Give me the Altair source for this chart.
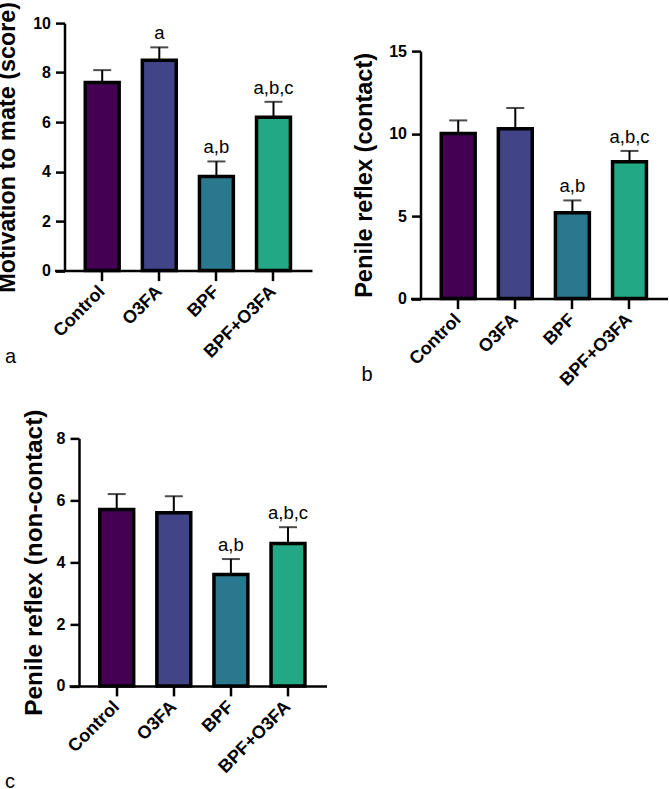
import altair as alt
import pandas as pd

# Treatment groups and bar fill colours (viridis steps)
groups = ["Control", "O3FA", "BPF", "BPF+O3FA"]
colors = ["#440154", "#414487", "#2A788E", "#22A884"]

# (a) Motivation to mate
motivation_mean = [7.6, 8.5, 3.8, 6.2]
motivation_sem = [0.5, 0.52, 0.61, 0.62]
motivation_sig = ["", "a", "a,b", "a,b,c"]

# (b) Penile reflex, contact
contact_mean = [10.0, 10.3, 5.2, 8.3]
contact_sem = [0.8, 1.25, 0.75, 0.65]
contact_sig = ["", "", "a,b", "a,b,c"]

# (c) Penile reflex, non-contact
noncontact_mean = [5.7, 5.6, 3.6, 4.6]
noncontact_sem = [0.5, 0.53, 0.5, 0.53]
noncontact_sig = ["", "", "a,b", "a,b,c"]

FONT = "Liberation Sans"
PLOT = 247.5  # plot-area side length in px


def panel(means, sems, sigs, ytitle, ymax, ystep, letter, letter_xy,
          top_pad=0.0, left_shift=0.0, title_pad=12, title_size=23.4):
    df = pd.DataFrame({
        "group": groups,
        "mean": means,
        "upper": [m + s for m, s in zip(means, sems)],
        "sig": sigs,
    })
    height = PLOT + top_pad
    width = PLOT + left_shift

    # band scale whose range starts 10px left of the y axis so the baseline overhangs
    xscale = alt.Scale(range=[left_shift - 10, left_shift + PLOT],
                       paddingInner=0.406, paddingOuter=0.458, align=0.588)
    xaxis = alt.Axis(labelAngle=-45, labelAlign="right", labelBaseline="middle",
                     labelFont=FONT, labelFontSize=18, labelFontWeight="bold",
                     labelColor="black", labelPadding=8, tickSize=10, tickWidth=2.5,
                     tickColor="black", domainColor="black", domainWidth=2.5,
                     grid=False, labelOverlap=False, title=None)
    x = alt.X("group:N", sort=groups, title=None, scale=xscale, axis=xaxis)

    yscale = alt.Scale(domain=[0, ymax], range=[height, top_pad], nice=False, zero=True)
    yaxis = alt.Axis(
        title=ytitle, values=list(range(0, ymax + 1, ystep)),
        titleFont=FONT, titleFontSize=title_size, titleFontWeight="bold", titleColor="black",
        titlePadding=title_pad,
        labelFont=FONT, labelFontSize=16, labelFontWeight="bold", labelColor="black",
        labelPadding=5, tickSize=9, tickWidth=2.5, tickColor="black",
        domainColor="black", domainWidth=2.5, grid=False,
        offset=-left_shift,
    )

    base = alt.Chart(df)
    xg = alt.X("group:N", sort=groups)
    whisker = base.mark_rule(color="black", strokeWidth=2).encode(
        x=xg, y="mean:Q", y2="upper:Q"
    )
    bars = base.mark_bar(stroke="black", strokeWidth=3.5).encode(
        x=x,
        y=alt.Y("mean:Q", scale=yscale, axis=yaxis),
        color=alt.Color("group:N", scale=alt.Scale(domain=groups, range=colors), legend=None),
    )
    cap = base.mark_tick(color="black", thickness=2, size=18).encode(x=xg, y="upper:Q")
    sig = base.mark_text(font=FONT, fontSize=18.5, baseline="alphabetic", dy=-8,
                         color="black").encode(x=xg, y="upper:Q", text="sig:N")

    # panel letter below the axis labels
    tag = alt.Chart(pd.DataFrame({"tag": [letter]})).mark_text(
        font=FONT, fontSize=20, align="left", baseline="alphabetic", color="black"
    ).encode(text="tag:N", x=alt.value(letter_xy[0]), y=alt.value(letter_xy[1]))

    return alt.layer(whisker, bars, cap, sig, tag).properties(width=width, height=height)


pa = panel(motivation_mean, motivation_sem, motivation_sig,
           "Motivation to mate (score)", 10, 2, "a", (-59.5, 340),
           title_pad=13, title_size=23.4)
pb = panel(contact_mean, contact_sem, contact_sig,
           "Penile reflex (contact)", 15, 5, "b", (-59, 358), top_pad=28,
           title_pad=12.5, title_size=23.6)
pc = panel(noncontact_mean, noncontact_sem, noncontact_sig,
           "Penile reflex (non-contact)", 8, 2, "c", (-59.5, 350), left_shift=14.5,
           title_pad=10, title_size=24.4)

chart = alt.concat(
    pa, pb, pc,
    columns=2,
    bounds="flush",
    spacing={"row": 139.3, "column": 94},
).properties(
    padding={"left": -4.5, "top": 1.1, "right": -11, "bottom": -5.5},
    background="white",
).configure_view(stroke=None)

chart.save("out.html", embed_options={"renderer": "svg", "actions": False})
